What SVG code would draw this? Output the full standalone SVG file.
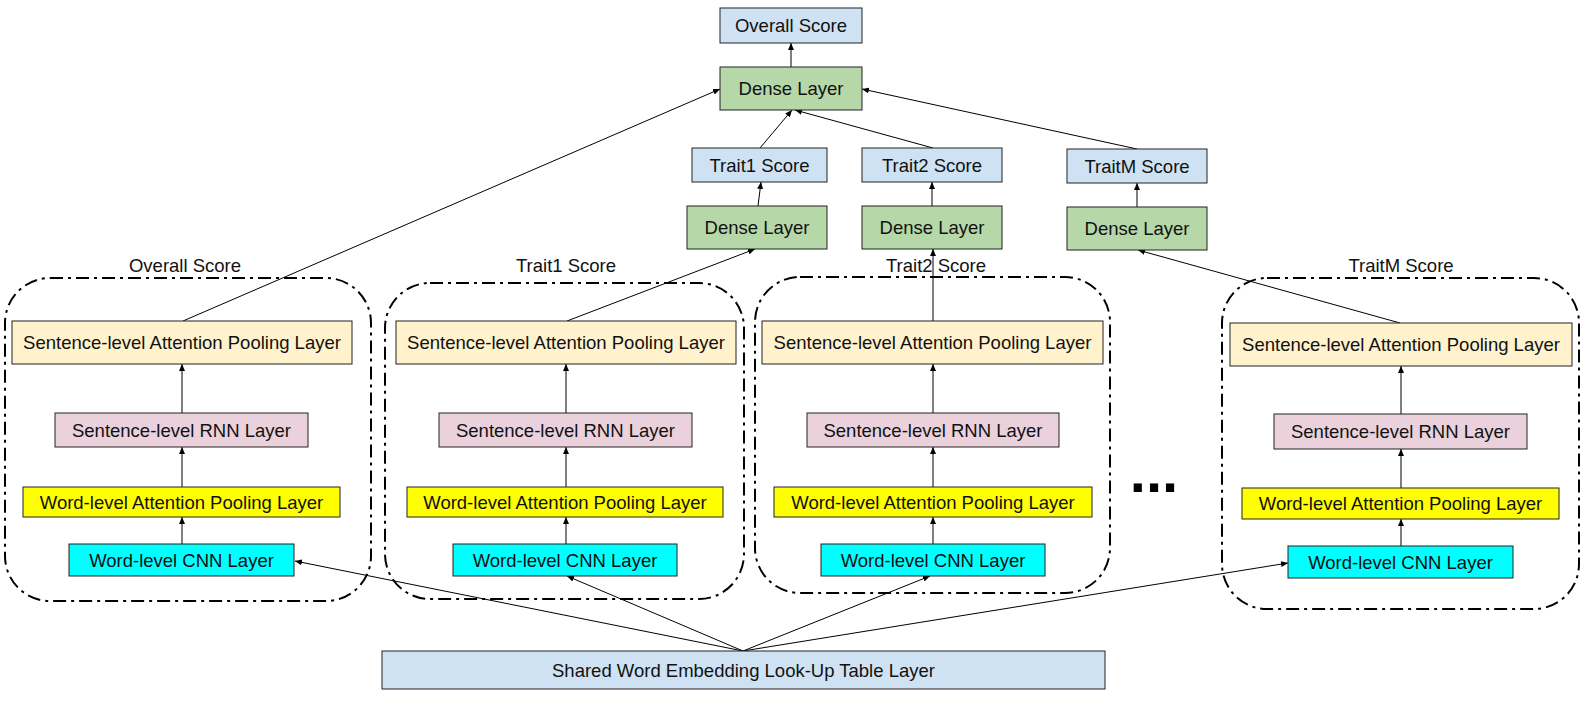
<svg xmlns="http://www.w3.org/2000/svg" width="1595" height="726" viewBox="0 0 1595 726">
<style>
  text { font-family: "Liberation Sans", Arial, sans-serif; font-size: 18.5px; fill: #111; text-anchor: middle; }
  .n { stroke: #222; stroke-width: 1; }
  .score { fill: #cfe2f3; }
  .dense { fill: #b6d7a8; }
  .satt { fill: #fff2cc; }
  .rnn { fill: #ead1dc; }
  .watt { fill: #ffff00; }
  .cnn { fill: #00ffff; }
  .grp { fill: none; stroke: #000; stroke-width: 2; stroke-dasharray: 13 5 3 5; }
  .c { stroke: #000; stroke-width: 1; fill: none; marker-end: url(#ah); }
  .dots { font-size: 58px; font-weight: bold; fill: #000; }
</style>
<defs>
  <marker id="ah" markerUnits="userSpaceOnUse" markerWidth="8" markerHeight="6" refX="7" refY="3" orient="auto">
    <path d="M0,0 L7,3 L0,6 Z" fill="#000"/>
  </marker>
</defs>
<rect width="1595" height="726" fill="#fff"/>

<g id="group-overall">
  <rect class="grp" x="5" y="278" width="366" height="323" rx="45" ry="45"/>
  <text x="185" y="272">Overall Score</text>
</g>
<g id="group-trait1">
  <rect class="grp" x="385" y="283" width="359" height="316" rx="45" ry="45"/>
  <text x="566" y="272">Trait1 Score</text>
</g>
<g id="group-trait2">
  <rect class="grp" x="755" y="277" width="355" height="316" rx="45" ry="45"/>
  <text x="936" y="272">Trait2 Score</text>
</g>
<g id="group-traitm">
  <rect class="grp" x="1222" y="278" width="357" height="331" rx="45" ry="45"/>
  <text x="1401" y="272">TraitM Score</text>
</g>

<g id="connectors">
  <line class="c" x1="791" y1="67" x2="791" y2="43"/>
  <line class="c" x1="760" y1="148" x2="792" y2="110"/>
  <line class="c" x1="933" y1="148" x2="795" y2="110"/>
  <line class="c" x1="1137" y1="149" x2="862" y2="89"/>
  <line class="c" x1="758" y1="206" x2="761" y2="182"/>
  <line class="c" x1="932" y1="206" x2="932" y2="182"/>
  <line class="c" x1="1137" y1="207" x2="1137" y2="183"/>
  <line class="c" x1="183" y1="321" x2="720" y2="89"/>
  <line class="c" x1="567" y1="321" x2="755" y2="249"/>
  <line class="c" x1="933" y1="321" x2="933" y2="249"/>
  <line class="c" x1="1400" y1="323" x2="1138" y2="250"/>
  <line class="c" x1="182" y1="413" x2="182" y2="364"/>
  <line class="c" x1="182" y1="487" x2="182" y2="447"/>
  <line class="c" x1="182" y1="544" x2="182" y2="517"/>
  <line class="c" x1="566" y1="413" x2="566" y2="364"/>
  <line class="c" x1="566" y1="487" x2="566" y2="447"/>
  <line class="c" x1="566" y1="544" x2="566" y2="517"/>
  <line class="c" x1="933" y1="413" x2="933" y2="364"/>
  <line class="c" x1="933" y1="487" x2="933" y2="447"/>
  <line class="c" x1="933" y1="544" x2="933" y2="517"/>
  <line class="c" x1="1401" y1="414" x2="1401" y2="366"/>
  <line class="c" x1="1401" y1="488" x2="1401" y2="449"/>
  <line class="c" x1="1401" y1="546" x2="1401" y2="519"/>
  <line class="c" x1="743" y1="651" x2="295" y2="561"/>
  <line class="c" x1="743" y1="651" x2="567" y2="576"/>
  <line class="c" x1="743" y1="651" x2="930" y2="576"/>
  <line class="c" x1="743" y1="651" x2="1288" y2="563"/>
</g>

<g id="overall-score"><rect class="n score" x="720" y="8" width="142" height="35"/><text x="791" y="32">Overall Score</text></g>
<g id="dense-top"><rect class="n dense" x="720" y="67" width="142" height="43"/><text x="791" y="95">Dense Layer</text></g>
<g id="trait1-score"><rect class="n score" x="692" y="148" width="135" height="34"/><text x="759.5" y="171.5">Trait1 Score</text></g>
<g id="trait1-dense"><rect class="n dense" x="687" y="206" width="140" height="43"/><text x="757" y="234">Dense Layer</text></g>
<g id="trait2-score"><rect class="n score" x="862" y="148" width="140" height="34"/><text x="932" y="171.5">Trait2 Score</text></g>
<g id="trait2-dense"><rect class="n dense" x="862" y="206" width="140" height="43"/><text x="932" y="234">Dense Layer</text></g>
<g id="traitm-score"><rect class="n score" x="1067" y="149" width="140" height="34"/><text x="1137" y="172.5">TraitM Score</text></g>
<g id="traitm-dense"><rect class="n dense" x="1067" y="207" width="140" height="43"/><text x="1137" y="235">Dense Layer</text></g>

<g id="overall-satt"><rect class="n satt" x="12" y="321" width="340" height="43"/><text x="182" y="349">Sentence-level Attention Pooling Layer</text></g>
<g id="overall-rnn"><rect class="n rnn" x="55" y="413" width="253" height="34"/><text x="181.5" y="436.5">Sentence-level RNN Layer</text></g>
<g id="overall-watt"><rect class="n watt" x="23" y="487" width="317" height="30"/><text x="181.5" y="508.5">Word-level Attention Pooling Layer</text></g>
<g id="overall-cnn"><rect class="n cnn" x="69" y="544" width="225" height="32"/><text x="181.5" y="566.5">Word-level CNN Layer</text></g>

<g id="trait1-satt"><rect class="n satt" x="396" y="321" width="340" height="43"/><text x="566" y="349">Sentence-level Attention Pooling Layer</text></g>
<g id="trait1-rnn"><rect class="n rnn" x="439" y="413" width="253" height="34"/><text x="565.5" y="436.5">Sentence-level RNN Layer</text></g>
<g id="trait1-watt"><rect class="n watt" x="407" y="487" width="316" height="30"/><text x="565" y="508.5">Word-level Attention Pooling Layer</text></g>
<g id="trait1-cnn"><rect class="n cnn" x="453" y="544" width="224" height="32"/><text x="565" y="566.5">Word-level CNN Layer</text></g>

<g id="trait2-satt"><rect class="n satt" x="762" y="321" width="341" height="43"/><text x="932.5" y="349">Sentence-level Attention Pooling Layer</text></g>
<g id="trait2-rnn"><rect class="n rnn" x="807" y="413" width="252" height="34"/><text x="933" y="436.5">Sentence-level RNN Layer</text></g>
<g id="trait2-watt"><rect class="n watt" x="774" y="487" width="318" height="30"/><text x="933" y="508.5">Word-level Attention Pooling Layer</text></g>
<g id="trait2-cnn"><rect class="n cnn" x="821" y="544" width="224" height="32"/><text x="933" y="566.5">Word-level CNN Layer</text></g>

<g id="traitm-satt"><rect class="n satt" x="1230" y="323" width="342" height="43"/><text x="1401" y="351">Sentence-level Attention Pooling Layer</text></g>
<g id="traitm-rnn"><rect class="n rnn" x="1274" y="414" width="253" height="35"/><text x="1400.5" y="438">Sentence-level RNN Layer</text></g>
<g id="traitm-watt"><rect class="n watt" x="1242" y="488" width="317" height="31"/><text x="1400.5" y="510">Word-level Attention Pooling Layer</text></g>
<g id="traitm-cnn"><rect class="n cnn" x="1288" y="546" width="225" height="32"/><text x="1400.5" y="568.5">Word-level CNN Layer</text></g>

<g id="ellipsis"><text class="dots" x="1154" y="492">...</text></g>

<g id="shared-embedding"><rect class="n score" x="382" y="651" width="723" height="38"/><text x="743.5" y="676.5">Shared Word Embedding Look-Up Table Layer</text></g>
</svg>
